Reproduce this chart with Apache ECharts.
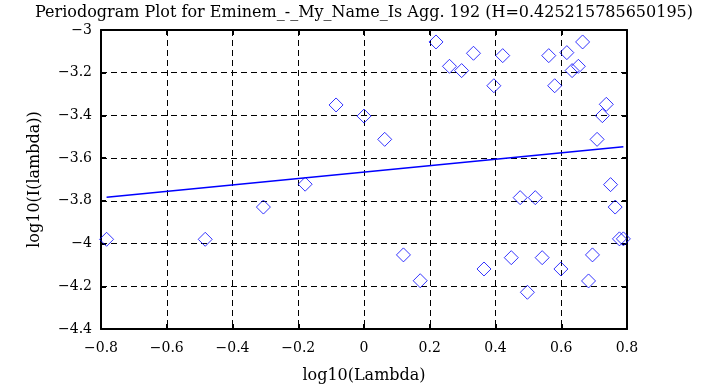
<!DOCTYPE html>
<html><head><meta charset="utf-8">
<script src="https://cdn.jsdelivr.net/npm/echarts@6/dist/echarts.min.js"></script>
<style>html,body{margin:0;padding:0;background:#fff}#c{width:728px;height:385px}</style>
</head><body><div id="c"></div>
<script>
const titleText = 'Periodogram Plot for Eminem_-_My_Name_Is Agg. 192 (H=0.425215785650195)';
const xName = 'log10(Lambda)';
const yName = 'log10(I(lambda))';
const xTicks = [-0.8, -0.6, -0.4, -0.2, 0, 0.2, 0.4, 0.6, 0.8];
const yTicks = [-4.4, -4.2, -4, -3.8, -3.6, -3.4, -3.2, -3];
const logLambda = [-0.783, -0.483, -0.306, -0.179, -0.085, 0.0, 0.063, 0.120, 0.171, 0.219, 0.260, 0.297, 0.333, 0.365, 0.395, 0.422, 0.448, 0.475, 0.497, 0.521, 0.542, 0.562, 0.580, 0.599, 0.617, 0.633, 0.652, 0.665, 0.683, 0.695, 0.709, 0.725, 0.737, 0.750, 0.764, 0.777, 0.789];
const logI = [-3.980, -3.980, -3.829, -3.722, -3.351, -3.403, -3.512, -4.053, -4.174, -3.056, -3.170, -3.190, -3.109, -4.119, -3.261, -3.120, -4.066, -3.785, -4.228, -3.785, -4.066, -3.120, -3.261, -4.119, -3.106, -3.190, -3.170, -3.056, -4.175, -4.053, -3.512, -3.401, -3.348, -3.724, -3.829, -3.978, -3.978];
const fitX = [-0.783, 0.789];
const fitY = [-3.783, -3.547];

const fmt = v => String(Math.round(v * 10) / 10).replace('-', '\u2212');
const font = 'DejaVu Serif';
const chart = echarts.init(document.getElementById('c'), null, {renderer: 'canvas'});
const axisCommon = {
  axisLine: {show: true, onZero: false, lineStyle: {color: '#000', width: 2}},
  axisTick: {show: true, inside: true, length: 5, lineStyle: {color: '#000', width: 2}},
};
chart.setOption({
  animation: false,
  title: {text: titleText, left: 'center', top: 0,
    textStyle: {fontFamily: font, fontSize: 16, fontWeight: 'normal', color: '#000'}},
  grid: {left: 101, right: 101, top: 30, bottom: 56, containLabel: false, outerBoundsMode: 'none'},
  xAxis: [
    Object.assign({type: 'value', min: -0.8, max: 0.8, interval: 0.2, position: 'bottom',
      name: xName, nameLocation: 'middle', nameGap: 39,
      nameTextStyle: {fontFamily: font, fontSize: 16, color: '#000'},
      axisLabel: {fontFamily: font, fontSize: 14, color: '#000', margin: 12, formatter: fmt},
      splitLine: {show: true, lineStyle: {color: '#000', type: [6, 4], width: 1}}}, axisCommon),
    Object.assign({type: 'value', min: -0.8, max: 0.8, interval: 0.2, position: 'top',
      axisLabel: {show: false}, splitLine: {show: false}}, axisCommon)
  ],
  yAxis: [
    Object.assign({type: 'value', min: -4.4, max: -3, interval: 0.2, position: 'left',
      name: yName, nameLocation: 'middle', nameGap: 58,
      nameTextStyle: {fontFamily: font, fontSize: 16, color: '#000'},
      axisLabel: {fontFamily: font, fontSize: 14, color: '#000', margin: 9, formatter: fmt},
      splitLine: {show: true, lineStyle: {color: '#000', type: [6, 4], width: 1}}}, axisCommon),
    Object.assign({type: 'value', min: -4.4, max: -3, interval: 0.2, position: 'right',
      axisLabel: {show: false}, splitLine: {show: false}}, axisCommon)
  ],
  series: [
    {type: 'scatter', data: logLambda.map((x, i) => [x, logI[i]]),
      symbol: 'diamond', symbolSize: 14,
      itemStyle: {color: 'transparent', borderColor: '#0000ff', borderWidth: 1}, z: 5},
    {type: 'line', data: fitX.map((x, i) => [x, fitY[i]]), symbol: 'none',
      lineStyle: {color: '#0000ff', width: 1.5}, z: 4}
  ]
});
</script></body></html>
